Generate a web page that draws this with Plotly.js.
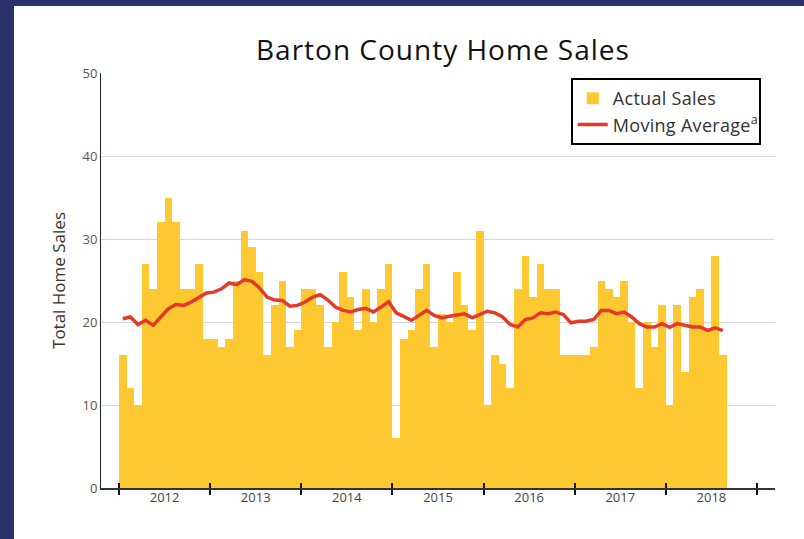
<!DOCTYPE html>
<html><head><meta charset="utf-8">
<script src="https://cdn.plot.ly/plotly-3.0.1.min.js"></script>
<style>
html,body{margin:0;padding:0;background:#2a326c;width:804px;height:539px;overflow:hidden}
#chart{position:absolute;left:14px;top:6px;width:790px;height:533px;background:#fff}
#chart .gtitle{letter-spacing:1px}
#chart .legendtext{letter-spacing:0.3px}
</style></head><body><div id="chart"></div>
<script>
// Monthly data, Jan 2012 .. Aug 2018
const years = ["2012","2013","2014","2015","2016","2017","2018"];
const actualSales = [
  16,12,10,27,24,32,35,32,24,24,27,18,
  18,17,18,25,31,29,26,16,22,25,17,19,
  24,24,22,17,20,26,23,19,24,20,24,27,
  6,18,19,24,27,17,21,20,26,22,19,31,
  10,16,15,12,24,28,23,27,24,24,16,16,
  16,16,17,25,24,23,25,20,12,20,17,22,
  10,22,14,23,24,19,28,16
];
const movingAverage = [
  20.4,20.6,19.7,20.2,19.6,20.6,21.6,22.1,22.0,22.4,22.9,23.5,
  23.6,24.0,24.7,24.5,25.1,24.9,24.1,23.0,22.65,22.6,21.9,22.0,
  22.4,23.0,23.3,22.65,21.8,21.4,21.2,21.5,21.65,21.2,21.8,22.45,
  21.1,20.6,20.2,20.8,21.4,20.8,20.5,20.7,20.8,21.0,20.5,20.95,
  21.3,21.1,20.6,19.7,19.4,20.3,20.5,21.1,21.0,21.2,20.9,19.9,
  20.1,20.1,20.3,21.4,21.4,21.0,21.2,20.6,19.8,19.4,19.4,19.8,
  19.35,19.8,19.6,19.4,19.4,19.0,19.3,18.95
];
const yTicks = [0,10,20,30,40,50];

const monthIdx = actualSales.map((_, i) => i);
const yearCenters = years.map((_, i) => i * 12 + 5.5);
const yearBounds = years.concat(["2019"]).map((_, i) => i * 12 - 0.5);
const xRange = [-2.87, 85.87];

const FONT = '"Open Sans", sans-serif';

const traces = [
  {type:'bar', name:'Actual Sales', x: monthIdx, y: actualSales,
   marker:{color:'#FEC830'}, xaxis:'x', yaxis:'y'},
  {type:'scatter', mode:'lines', name:'Moving Average<sup>a</sup>', x: monthIdx, y: movingAverage,
   line:{color:'#E43A2A', width:3.5}, xaxis:'x2', yaxis:'y'}
];

const layout = {
  width:790, height:533,
  margin:{l:87, r:29, t:67, b:51},
  paper_bgcolor:'#ffffff', plot_bgcolor:'#ffffff',
  font:{family:FONT, color:'#333'},
  bargap:0,
  showlegend:true,
  title:{text:'Barton County Home Sales', xref:'container', x:0.543, xanchor:'center',
         yref:'container', y:0.917, yanchor:'middle',
         font:{family:FONT, size:28, color:'#111'}},
  legend:{x:0.697, y:0.988, xanchor:'left', yanchor:'top', bgcolor:'#fff',
          bordercolor:'#000', borderwidth:2, font:{family:FONT, size:18, color:'#333'}},
  xaxis:{range:xRange, tickmode:'array', tickvals:yearBounds, ticks:'outside', ticklen:5,
         tickwidth:2, tickcolor:'#111', showticklabels:false, showline:true,
         linecolor:'#333', linewidth:1.5, showgrid:false, zeroline:false, fixedrange:true},
  xaxis2:{overlaying:'x', anchor:'y', side:'bottom', range:xRange, tickmode:'array',
          tickvals:yearCenters, ticktext:years, ticks:'inside', ticklen:0,
          showline:false, showgrid:false, zeroline:false,
          tickfont:{family:FONT, size:13, color:'#444'},
          minor:{tickmode:'array', tickvals:yearBounds, ticks:'inside', ticklen:5,
                 tickwidth:2, tickcolor:'#111', showgrid:false}},
  yaxis:{range:[0,50], tickmode:'array', tickvals:yTicks, ticks:'', showline:true,
         linecolor:'#222', linewidth:1, showgrid:true, gridcolor:'#d6d6d6', gridwidth:1,
         zeroline:false, tickfont:{family:FONT, size:13, color:'#555'},
         title:{text:'Total Home Sales', font:{family:FONT, size:17, color:'#333'}, standoff:12}}
};

Plotly.newPlot('chart', traces, layout, {displayModeBar:false, staticPlot:true});
</script></body></html>
